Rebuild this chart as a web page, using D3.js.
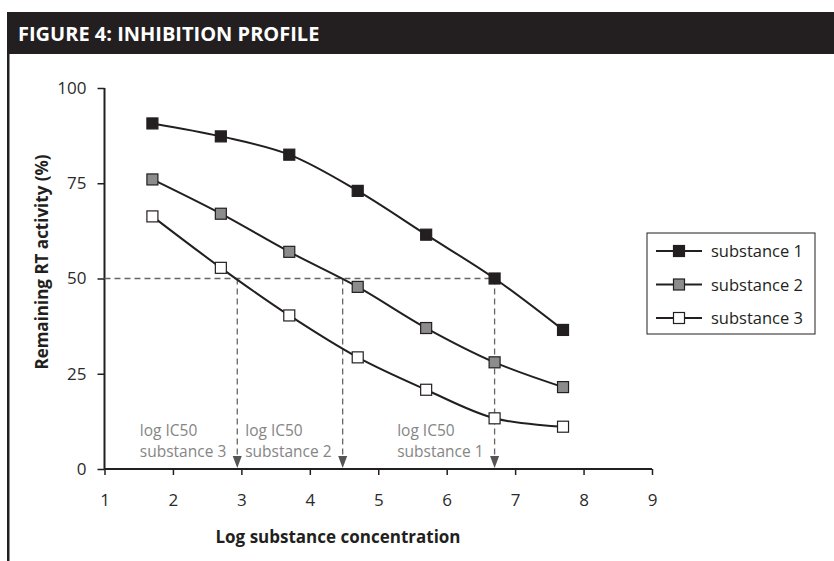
<!DOCTYPE html>
<html>
<head>
<meta charset="utf-8">
<script src="https://cdn.jsdelivr.net/npm/d3@7"></script>
<style>
  body { margin: 0; background: #fff; }
  svg { display: block; font-family: "Open Sans", "Noto Sans", sans-serif; }
</style>
</head>
<body>
<svg id="chart" width="834" height="561"></svg>
<script>
// data
let concentrations = [1.7, 2.7, 3.7, 4.7, 5.7, 6.7, 7.7];
let substance1 = [90.7, 87.3, 82.5, 73.0, 61.5, 50.0, 36.5];
let substance2 = [76.0, 67.0, 57.0, 47.8, 37.0, 28.0, 21.5];
let substance3 = [66.3, 52.8, 40.3, 29.3, 20.8, 13.3, 11.1];
let seriesNames = ['substance 1', 'substance 2', 'substance 3'];
let seriesFills = ['#231f20', '#8c8c8c', '#ffffff'];
let ic50Values = [2.94, 4.48, 6.7];
let ic50Labels = ['substance 3', 'substance 2', 'substance 1'];
let xTicks = [1, 2, 3, 4, 5, 6, 7, 8, 9];
let yTicks = [0, 25, 50, 75, 100];

let svg = d3.select('#chart');
let dark = '#231f20';

// title bar + frame
svg.append('rect')
  .attr('x', 7).attr('y', 12)
  .attr('width', 827).attr('height', 42)
  .attr('fill', dark);
svg.append('text')
  .attr('x', 18).attr('y', 41)
  .attr('fill', '#fff')
  .attr('font-size', 20)
  .attr('font-weight', 700)
  .text('FIGURE 4: INHIBITION PROFILE');
svg.append('rect')
  .attr('x', 7).attr('y', 54)
  .attr('width', 2.5).attr('height', 507)
  .attr('fill', dark);

let x = d3.scaleLinear().domain([1, 9]).range([104.5, 652]);
let y = d3.scaleLinear().domain([0, 100]).range([469, 88]);

// axes
let xAxis = svg.append('g')
  .attr('transform', 'translate(0,' + y(0) + ')')
  .call(d3.axisBottom(x).tickValues(xTicks).tickSize(6).tickPadding(19).tickFormat(d3.format('d')));
let yAxis = svg.append('g')
  .attr('transform', 'translate(' + x(1) + ',0)')
  .call(d3.axisLeft(y).tickValues(yTicks).tickSize(7).tickPadding(11));
[xAxis, yAxis].forEach((g) => {
  g.attr('font-size', 17).attr('font-family', '"Open Sans", sans-serif');
  g.select('.domain').attr('stroke', dark).attr('stroke-width', 2);
  g.selectAll('.tick line').attr('stroke', dark).attr('stroke-width', 1.5);
  g.selectAll('.tick text').attr('fill', '#2b2b2b');
});
xAxis.select('.domain').attr('d', 'M' + x(1) + ',0H' + x(9));
yAxis.select('.domain').attr('d', 'M0,' + y(0) + 'V' + y(100));

// axis titles
svg.append('text')
  .attr('x', 338).attr('y', 543)
  .attr('text-anchor', 'middle')
  .attr('font-size', 17).attr('font-weight', 700)
  .attr('fill', dark)
  .text('Log substance concentration');
svg.append('text')
  .attr('transform', 'translate(48,' + 262 + ') rotate(-90)')
  .attr('text-anchor', 'middle')
  .attr('font-size', 17).attr('font-weight', 700)
  .attr('fill', dark)
  .text('Remaining RT activity (%)');

// IC50 guides
let guideColor = '#666';
svg.append('line')
  .attr('x1', x(1)).attr('x2', x(d3.max(ic50Values)))
  .attr('y1', y(50)).attr('y2', y(50))
  .attr('stroke', guideColor).attr('stroke-width', 1.3)
  .attr('stroke-dasharray', '6,4');

let guides = svg.selectAll('.guide')
  .data(ic50Values)
  .enter()
  .append('g')
  .attr('class', 'guide');
guides.append('line')
  .attr('x1', (d) => x(d)).attr('x2', (d) => x(d))
  .attr('y1', y(50)).attr('y2', y(0) - 10)
  .attr('stroke', guideColor).attr('stroke-width', 1.3)
  .attr('stroke-dasharray', '6,4');
guides.append('path')
  .attr('d', (d) => {
    let px = x(d), py = y(0) - 1;
    return 'M' + (px - 4.5) + ',' + (py - 12) + 'L' + (px + 4.5) + ',' + (py - 12) + 'L' + px + ',' + py + 'Z';
  })
  .attr('fill', '#555');

// two-line labels, left aligned, ending just before each arrow
guides.each(function(d, i) {
  let g = d3.select(this);
  let lower = g.append('text')
    .attr('y', 457)
    .attr('fill', '#858585')
    .attr('font-size', 15.5)
    .text(ic50Labels[i]);
  let w = lower.node().getComputedTextLength();
  let left = x(d) - 11 - w;
  lower.attr('x', left);
  g.append('text')
    .attr('x', left)
    .attr('y', 436)
    .attr('fill', '#858585')
    .attr('font-size', 15.5)
    .text('log IC50');
});

// series
let seriesData = [substance1, substance2, substance3];
let line = d3.line()
  .x((d, i) => x(concentrations[i]))
  .y((d) => y(d))
  .curve(d3.curveCatmullRom.alpha(0.5));

seriesData.forEach((values, s) => {
  svg.append('path')
    .datum(values)
    .attr('d', line)
    .attr('fill', 'none')
    .attr('stroke', dark)
    .attr('stroke-width', 2);
  svg.selectAll('.m' + s)
    .data(values)
    .enter()
    .append('rect')
    .attr('class', 'm' + s)
    .attr('x', (d, i) => x(concentrations[i]) - 5.5)
    .attr('y', (d) => y(d) - 5.5)
    .attr('width', 11).attr('height', 11)
    .attr('fill', seriesFills[s])
    .attr('stroke', dark)
    .attr('stroke-width', 1.2);
});

// legend
let legend = svg.append('g').attr('transform', 'translate(647,233)');
legend.append('rect')
  .attr('width', 168).attr('height', 101)
  .attr('fill', '#fff')
  .attr('stroke', dark)
  .attr('stroke-width', 1);
let items = legend.selectAll('.item')
  .data(seriesNames)
  .enter()
  .append('g')
  .attr('transform', (d, i) => 'translate(0,' + (18 + i * 33.5) + ')');
items.append('line')
  .attr('x1', 9).attr('x2', 55)
  .attr('stroke', dark).attr('stroke-width', 2);
items.append('rect')
  .attr('x', 26.5).attr('y', -5.5)
  .attr('width', 11).attr('height', 11)
  .attr('fill', (d, i) => seriesFills[i])
  .attr('stroke', dark).attr('stroke-width', 1.2);
items.append('text')
  .attr('x', 64).attr('y', 6)
  .attr('font-size', 16.5)
  .attr('fill', dark)
  .text((d) => d);
</script>
</body>
</html>
